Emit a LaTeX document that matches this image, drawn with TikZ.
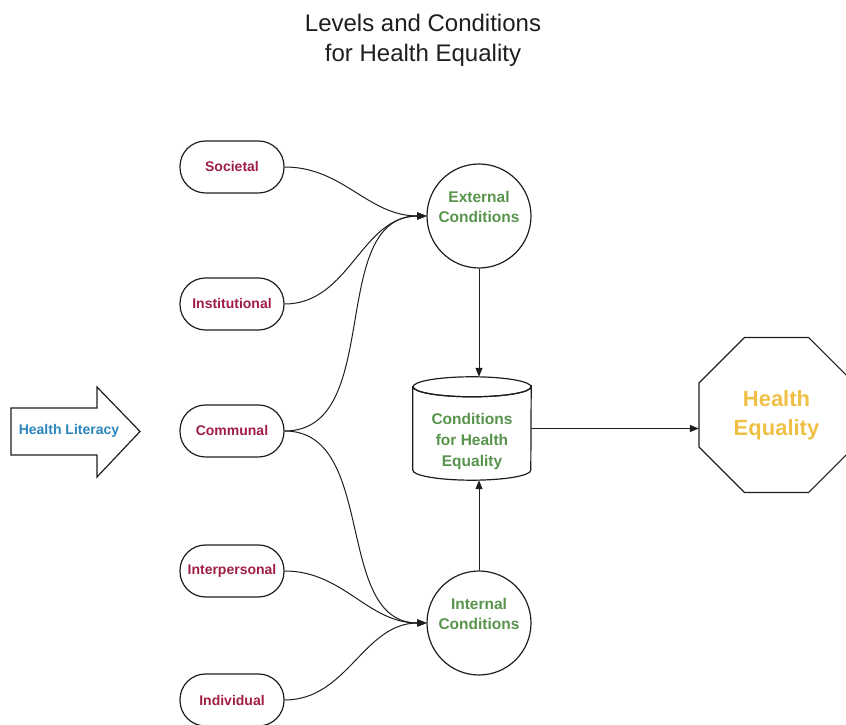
\documentclass[tikz,border=0pt]{standalone}
\usepackage{fontspec}
\setmainfont{Liberation Sans}
\usetikzlibrary{shapes.geometric,arrows.meta,calc}
\definecolor{lvl}{RGB}{158,30,68}
\definecolor{cond}{RGB}{88,148,76}
\definecolor{litc}{RGB}{43,134,189}
\definecolor{heq}{RGB}{240,192,70}
\definecolor{ln}{RGB}{30,30,30}
\begin{document}
\begin{tikzpicture}[x=1pt,y=1pt,
  lvlbox/.style={draw=ln, line width=1.2pt, rectangle, rounded corners=25.5pt,
    minimum width=104pt, minimum height=52pt, inner sep=0pt, text=lvl,
    font=\bfseries\fontsize{14}{16}\selectfont},
  condcirc/.style={draw=ln, line width=1.2pt, circle, minimum size=104pt, inner sep=0pt},
  condtext/.style={text=cond, font=\bfseries\fontsize{15.5}{19.5}\selectfont,
    align=center, inner sep=0pt},
  conn/.style={draw=ln, line width=1pt, -{Triangle[length=9pt,width=7pt]}},
  shapeline/.style={draw=ln, line width=1.2pt},
]
\useasboundingbox (0,0) rectangle (846,725);

% title
\node[align=center, font=\fontsize{24}{30}\selectfont, text=ln] (title) at (423,685)
  {Levels and Conditions\\for Health Equality};

% health literacy arrow
\draw[shapeline, line join=miter] (11,317) -- (97,317) -- (97,338) -- (140,293.5)
  -- (97,248) -- (97,270) -- (11,270) -- cycle;
\node[text=litc, font=\bfseries\fontsize{14}{16}\selectfont, inner sep=0pt] (lit) at (69,294) {Health Literacy};

% levels
\node[lvlbox] (soc) at (232,558) {Societal};
\node[lvlbox] (ins) at (232,421) {Institutional};
\node[lvlbox] (com) at (232,294) {Communal};
\node[lvlbox] (int) at (232,154) {Interpersonal};
\node[lvlbox] (ind) at (232,25) {Individual};

% conditions circles
\node[condcirc] (ext) at (479,509) {};
\node[condtext] (exttxt) at ($(ext.center)+(0,9)$) {External\\Conditions};
\node[condcirc] (inn) at (479,102) {};
\node[condtext] (inntxt) at ($(inn.center)+(0,9)$) {Internal\\Conditions};

% cylinder
\node[minimum width=118pt, minimum height=103pt, inner sep=0pt] (cyl) at (472,296.5) {};
\draw[shapeline, fill=white] ($(cyl.north west)+(0,-10)$) -- ($(cyl.south west)+(0,10)$)
  arc[start angle=180, end angle=360, x radius=59pt, y radius=10pt]
  -- ($(cyl.north east)+(0,-10)$)
  arc[start angle=0, end angle=-180, x radius=59pt, y radius=10pt] -- cycle;
\draw[shapeline] ($(cyl.north)+(0,-10)$) ellipse[x radius=59pt, y radius=10pt];
\node[condtext, font=\bfseries\fontsize{15.5}{21}\selectfont] (cyltxt) at ($(cyl.center)+(0,-13)$)
  {Conditions\\for Health\\Equality};

% octagon
\node[minimum width=155pt, minimum height=155pt, inner sep=0pt, text=heq,
  font=\bfseries\fontsize{22}{29}\selectfont, align=center]
  (oct) at (776.5,310) {Health\\Equality};
\draw[shapeline, line join=round] (699,342.1) -- (744.4,387.5) -- (808.6,387.5) -- (854,342.1)
  -- (854,277.9) -- (808.6,232.5) -- (744.4,232.5) -- (699,277.9) -- cycle;

% connectors
\draw[conn] (soc.east) to[out=0,in=180] (ext.west);
\draw[conn] (ins.east) to[out=0,in=180] (ext.west);
\draw[conn] (com.east) to[out=0,in=180] (ext.west);
\draw[conn] (com.east) to[out=0,in=180] (inn.west);
\draw[conn] (int.east) to[out=0,in=180] (inn.west);
\draw[conn] (ind.east) to[out=0,in=180] (inn.west);
\draw[conn] (ext.south) -- (ext.south |- cyl.north);
\draw[conn] (inn.north) -- (inn.north |- cyl.south);
\draw[conn] (cyl.east) -- (cyl.east -| oct.west);
\end{tikzpicture}
\end{document}
